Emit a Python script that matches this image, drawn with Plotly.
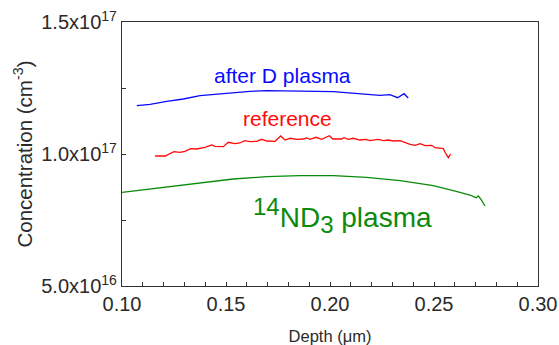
import plotly.graph_objects as go

# ---- data (depth in µm, concentration in cm^-3) ----
blue_x = [0.1071, 0.1135, 0.1215, 0.1295, 0.1375, 0.1455, 0.1535, 0.1615, 0.1696, 0.1776,
          0.1856, 0.1936, 0.2016, 0.2096, 0.2176, 0.2240, 0.2288, 0.2325, 0.2356, 0.2376]
blue_y = [1.1830, 1.1883, 1.1996, 1.2083, 1.2208, 1.2273, 1.2337, 1.2375, 1.2398, 1.2398,
          1.2386, 1.2375, 1.2360, 1.2311, 1.2284, 1.2223, 1.2246, 1.2133, 1.2284, 1.2121]

red_x = [0.1159, 0.1207, 0.1250, 0.1279, 0.1303, 0.1330, 0.1359, 0.1399, 0.1431, 0.1447,
         0.1487, 0.1511, 0.1543, 0.1567, 0.1591, 0.1615, 0.1648, 0.1672, 0.1696, 0.1736,
         0.1763, 0.1784, 0.1808, 0.1840, 0.1872, 0.1888, 0.1904, 0.1933, 0.1960, 0.1997,
         0.2013, 0.2056, 0.2067, 0.2088, 0.2112, 0.2144, 0.2173, 0.2192, 0.2232, 0.2256,
         0.2280, 0.2304, 0.2337, 0.2361, 0.2385, 0.2409, 0.2433, 0.2457, 0.2489, 0.2505,
         0.2529, 0.2545, 0.2553, 0.2569, 0.2580]
red_y = [0.9924, 0.9924, 1.0087, 1.0064, 1.0102, 1.0201, 1.0189, 1.0254, 1.0341, 1.0292,
         1.0277, 1.0443, 1.0390, 1.0417, 1.0504, 1.0466, 1.0481, 1.0557, 1.0492, 1.0481,
         1.0682, 1.0530, 1.0595, 1.0557, 1.0568, 1.0606, 1.0557, 1.0633, 1.0557, 1.0693,
         1.0568, 1.0568, 1.0617, 1.0557, 1.0595, 1.0530, 1.0557, 1.0504, 1.0557, 1.0504,
         1.0530, 1.0492, 1.0504, 1.0428, 1.0367, 1.0330, 1.0390, 1.0315, 1.0330, 1.0239,
         1.0220, 1.0201, 1.0064, 0.9860, 1.0000]

green_x = [0.1000, 0.1215, 0.1375, 0.1535, 0.1696, 0.1856, 0.2016, 0.2176, 0.2337, 0.2497,
           0.2625, 0.2673, 0.2702, 0.2713, 0.2726, 0.2745]
green_y = [0.8549, 0.8761, 0.8913, 0.9053, 0.9140, 0.9178, 0.9178, 0.9117, 0.8989, 0.8799,
           0.8549, 0.8447, 0.8345, 0.8409, 0.8284, 0.8030]

SCALE = 1e17
y_tickvals = [0.5e17, 1.0e17, 1.5e17]
y_ticktext = ["5.0x10<sup>16</sup>", "1.0x10<sup>17</sup>", "1.5x10<sup>17</sup>"]
x_tickvals = [0.10, 0.15, 0.20, 0.25, 0.30]
x_ticktext = ["0.10", "0.15", "0.20", "0.25", "0.30"]

labels = ["after D plasma", "reference",
          "<sup><span style='font-size:24px'>14</span></sup>ND<sub><span style='font-size:24px'>3</span></sub> plasma"]
label_x = [0.1770, 0.1795, 0.2062]
label_y = [1.2992e17, 1.1326e17, 0.767e17]
colors = ["#0a0aff", "#ff0a0a", "#0b8a0b"]
label_sizes = [21, 21, 28]

FONT = "Liberation Sans, Arial, sans-serif"

fig = go.Figure()
for xs, ys, c in [(blue_x, blue_y, colors[0]), (red_x, red_y, colors[1]), (green_x, green_y, colors[2])]:
    fig.add_trace(go.Scatter(x=xs, y=[v * SCALE for v in ys], mode="lines",
                             line=dict(color=c, width=1.3), showlegend=False, hoverinfo="skip"))

for t, x, y, c, s in zip(labels, label_x, label_y, colors, label_sizes):
    fig.add_annotation(x=x, y=y, text=t, showarrow=False, xanchor="center", yanchor="middle",
                       font=dict(color=c, size=s, family=FONT))

axis_common = dict(showgrid=False, zeroline=False, showline=True, linecolor="#333333",
                   linewidth=1.3, mirror=True, ticks="inside", tickcolor="#333333",
                   tickwidth=1, ticklen=4, automargin=False,
                   tickfont=dict(size=20, color="#2a2a2a", family=FONT))

fig.update_xaxes(range=[0.10, 0.30], tickvals=x_tickvals, ticktext=x_ticktext,
                 minor=dict(ticks="inside", dtick=0.01, tick0=0.10, ticklen=4, tickcolor="#333333", tickwidth=1),
                 title=dict(text="Depth (μm)", standoff=19,
                            font=dict(size=16.5, color="#2a2a2a", family=FONT)),
                 **axis_common)
fig.update_yaxes(range=[0.5e17, 1.5e17], tickvals=y_tickvals, ticktext=y_ticktext,
                 minor=dict(ticks="inside", dtick=0.25e17, tick0=0.5e17, ticklen=4, tickcolor="#333333", tickwidth=1),
                 title=dict(text="Concentration (cm<sup>-3</sup>)\u00a0\u00a0\u00a0", standoff=3,
                            font=dict(size=20.5, color="#2a2a2a", family=FONT)),
                 **axis_common)

fig.update_layout(width=559, height=345, margin=dict(l=122, r=21, t=22, b=59),
                  plot_bgcolor="white", paper_bgcolor="white")

fig.write_html("out.html")
